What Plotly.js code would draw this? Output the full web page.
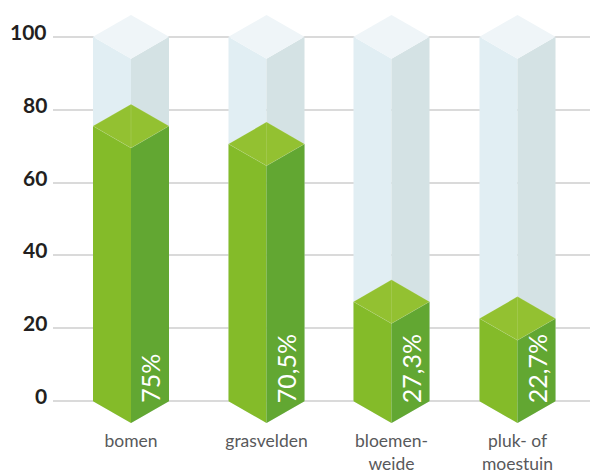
<!DOCTYPE html>
<html><head><meta charset="utf-8">
<script src="https://cdn.plot.ly/plotly-3.0.1.min.js"></script>
<style>html,body{margin:0;padding:0;background:#fff}</style></head>
<body><div id="chart" style="width:590px;height:473px"></div>
<script>
const categories = ["bomen", "grasvelden", "bloemen-<br>weide", "pluk- of<br>moestuin"];
const values = [75.5, 70.6, 27.3, 22.7];
const valueLabels = ["75%", "70,5%", "27,3%", "22,7%"];
const fullScale = 100;
const yTicks = [0, 20, 40, 60, 80, 100];

const centers = [0, 1.084, 2.084, 3.092];
const hw = 0.304, dy = 6;
const colors = {
  gL:"#e1eef3", gR:"#d4e2e4", gT:"#eff5f8",
  vL:"#84bb29", vR:"#62a732", vT:"#93c131"
};
function face(xs, ys, color, line){
  return {type:"scatter", mode:"lines", x:xs, y:ys, fill:"toself", fillcolor:color,
    line:{width:line?1:0, color:line||color}, hoverinfo:"skip", showlegend:false};
}
function prism(c, v, L, R, T, edge){
  const l=c-hw, r=c+hw;
  return [
    face([l,c,c,l,l],[0,-dy,v-dy,v,0],L),
    face([c,r,r,c,c],[-dy,0,v,v-dy,-dy],R),
    face([l,c,r,c,l],[v,v+dy,v,v-dy,v],T,edge),
    ...(edge?[{type:"scatter",mode:"lines",x:[c,c],y:[v-dy,v+dy],line:{width:1,color:edge},hoverinfo:"skip",showlegend:false}]:[])
  ];
}
const traces = [];
centers.forEach(c => traces.push(...prism(c, fullScale, colors.gL, colors.gR, colors.gT)));
centers.forEach((c,i) => traces.push(...prism(c, values[i], colors.vL, colors.vR, colors.vT, "rgba(255,255,255,0.12)")));

const annotations = centers.map((c,i)=>({
  x:c+0.155, y:-1, xref:"x", yref:"y", text:valueLabels[i], showarrow:false,
  textangle:-90, xanchor:"center", yanchor:"bottom",
  font:{family:"Lato, sans-serif", size:25, color:"#ffffff", weight:400}
})).concat(yTicks.map(t=>({
  x:-0.0075, xref:"paper", y:t, yref:"y", yshift:5.5, text:String(t), showarrow:false,
  xanchor:"right", yanchor:"middle",
  font:{family:"Lato, sans-serif", size:21, color:"#231f20", weight:700}
})));

Plotly.newPlot("chart", traces, {
  width:590, height:473, paper_bgcolor:"#fff", plot_bgcolor:"#fff",
  margin:{l:53, r:0, t:14.6, b:50.1},
  showlegend:false, annotations,
  xaxis:{range:[-0.624,3.672], tickmode:"array", tickvals:centers, ticktext:categories,
    showgrid:false, zeroline:false, showline:false, ticks:"outside", ticklen:2, tickcolor:"rgba(0,0,0,0)",
    tickfont:{family:"Lato, sans-serif", size:17.5, color:"#58595b"}, fixedrange:true},
  yaxis:{range:[-6,106], tickmode:"array", tickvals:yTicks, showticklabels:false,
    showgrid:true, gridcolor:"#dadada", gridwidth:2, zeroline:false, showline:false, fixedrange:true}
}, {displayModeBar:false, staticPlot:true});
</script></body></html>
